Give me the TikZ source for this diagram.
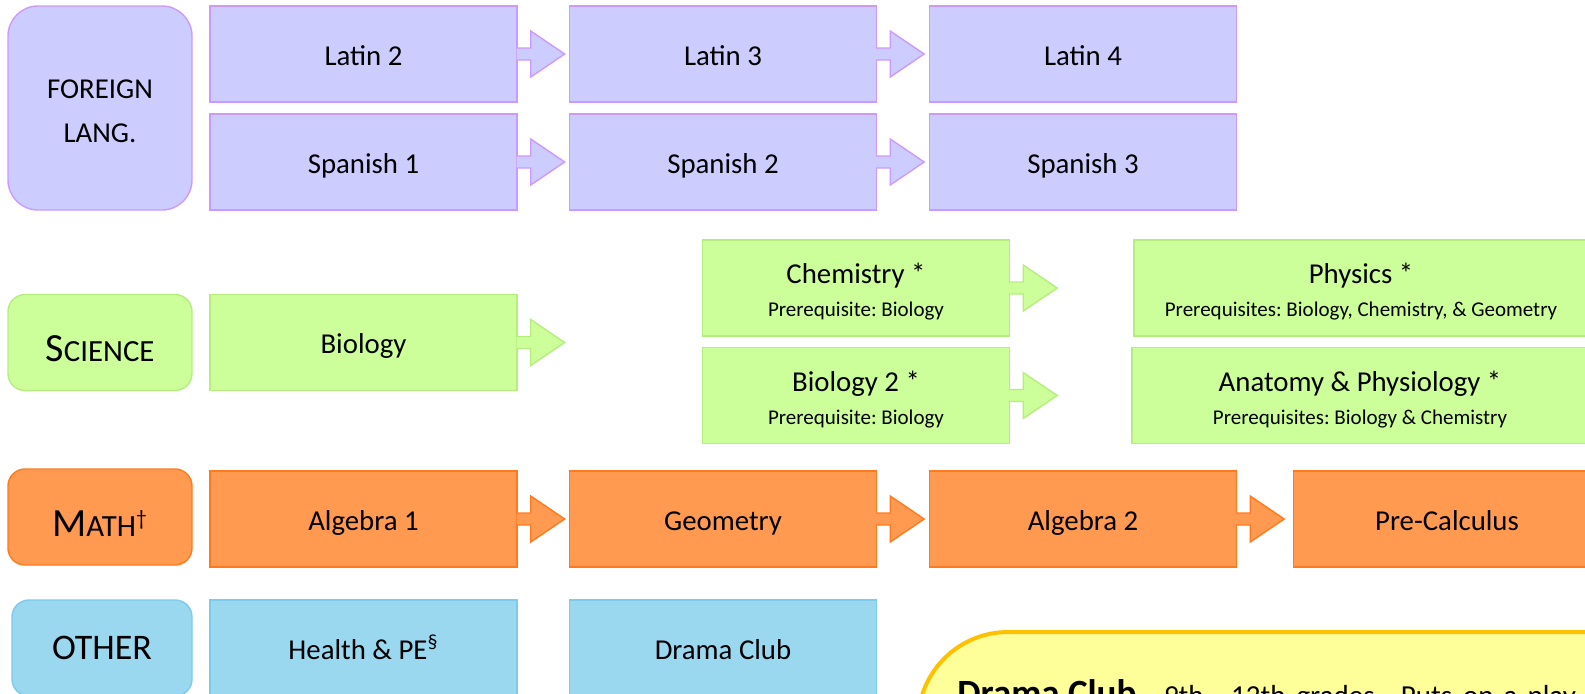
\documentclass[tikz,border=0pt]{standalone}
\usepackage{fontspec}
\setmainfont{Carlito}
\usepackage{tikz}
\usetikzlibrary{calc}
\usetikzlibrary{positioning}
\usepackage{xcolor}
\frenchspacing

\definecolor{langfill}{HTML}{CCCCFF}
\definecolor{langline}{HTML}{CC99FF}
\definecolor{scifill}{HTML}{CCFF99}
\definecolor{sciline}{HTML}{B5EE7F}
\definecolor{mathfill}{HTML}{FF9A50}
\definecolor{mathline}{HTML}{FF7A1F}
\definecolor{othfill}{HTML}{9AD8F0}
\definecolor{othline}{HTML}{7CCAEC}
\definecolor{notefill}{HTML}{FFFF99}
\definecolor{noteline}{HTML}{FFC000}

% block arrow hanging off the right side of a course box
\newcommand{\nextarrow}[2]{%
  \filldraw[#2] ($(#1.east)+(-1,-6)$) -- ++(14,0) -- ++(0,-17)
    -- ($(#1.east)+(47,0)$) -- ($(#1.east)+(13,23)$) -- ++(0,-17)
    -- ($(#1.east)+(-1,6)$);
}

\begin{document}
\begin{tikzpicture}[x=0.5pt, y=-0.5pt, line join=miter,
    box/.style={draw, line width=0.7pt, minimum width=153.5pt, minimum height=48pt,
      inner sep=0pt, align=center, font=\fontsize{14.4}{17}\selectfont},
    course/.style={box, text height=13.4pt, text depth=2pt},
    subject/.style={box, rounded corners=8.5pt, minimum width=92pt},
    lang/.style={fill=langfill, draw=langline, line width=0.7pt},
    sci/.style={fill=scifill, draw=sciline, line width=0.7pt},
    math/.style={fill=mathfill, draw=mathline, line width=0.7pt},
    oth/.style={fill=othfill, draw=othline, line width=0.7pt}]
    \useasboundingbox (0,0) rectangle (1585,693);
    \clip (0,0) rectangle (1585,693);

    % foreign languages
    \node[subject, lang, minimum height=102pt, rounded corners=15pt] (langs) at (100,108)
      {\rule{0pt}{12.3pt}FOREIGN\\[5pt]LANG.};
    \node[course, lang] (lat2) at (363.5,54) {Latin 2};
    \node[course, lang] (lat3) at (723,54) {Latin 3};
    \node[course, lang] (lat4) at (1083,54) {Latin 4};
    \node[course, lang] (spa1) at (363.5,162) {Spanish 1};
    \node[course, lang] (spa2) at (723,162) {Spanish 2};
    \node[course, lang] (spa3) at (1083,162) {Spanish 3};

    % science
    \node[subject, sci, text height=19pt, text depth=0pt] (sci) at (100,342.5)
      {\fontsize{20}{24}\selectfont S\fontsize{15.4}{18}\selectfont CIENCE};
    \node[course, sci] (bio) at (363.5,342.5) {Biology};
    \node[box, sci] (chem) at (856,288)
      {\rule{0pt}{14pt}Chemistry *\\[-0.5pt]\fontsize{10.5}{12}\selectfont Prerequisite: Biology};
    \node[box, sci] (bio2) at (856,395.5)
      {\rule{0pt}{14pt}Biology 2 *\\[-0.5pt]\fontsize{10.5}{12}\selectfont Prerequisite: Biology};
    \node[box, sci, minimum width=227pt] (phys) at (1361,288)
      {\rule{0pt}{14pt}Physics *\\[-0.5pt]\fontsize{10.5}{12}\selectfont Prerequisites: Biology, Chemistry, \& Geometry};
    \node[box, sci, minimum width=228pt] (anat) at (1360,395.5)
      {\rule{0pt}{14pt}Anatomy \& Physiology *\\[-0.5pt]\fontsize{10.5}{12}\selectfont Prerequisites: Biology \& Chemistry};

    % math
    \node[subject, math, text height=19pt, text depth=0pt] (maths) at (100,517)
      {\fontsize{20}{24}\selectfont M\fontsize{15.4}{18}\selectfont ATH\textsuperscript{†}};
    \node[course, math] (alg1) at (363.5,519) {Algebra 1};
    \node[course, math] (geo) at (723,519) {Geometry};
    \node[course, math] (alg2) at (1083,519) {Algebra 2};
    \node[course, math] (precalc) at (1447,519) {Pre-Calculus};

    % other
    \node[subject, oth, minimum width=90pt] (other) at (102,648)
      {\fontsize{18}{22}\selectfont OTHER};
    \node[course, oth] (health) at (363.5,648) {Health \& PE\textsuperscript{§}};
    \node[course, oth] (drama) at (723,648) {Drama Club};

    % arrows to the next course
    \foreach \n/\c in {lat2/lang, lat3/lang, spa1/lang, spa2/lang, bio/sci, chem/sci,
        bio2/sci, alg1/math, geo/math, alg2/math}
      \nextarrow{\n}{\c};

    % note on the drama club
    \filldraw[fill=notefill, draw=noteline, line width=2pt, rounded corners=45pt]
      (918,800) -- (918,632) -- (1700,632) -- (1700,800);
    \node[anchor=base west, inner sep=0pt] (dramanote) at (957,705)
      {{\fontsize{18.5}{22}\selectfont\bfseries Drama Club}\fontsize{14.5}{17}\selectfont\ – 9th – 12th\hspace{5.5pt}grades.\hspace{9.5pt}Puts\hspace{5.5pt}on\hspace{5pt}a\hspace{5pt}play};
\end{tikzpicture}
\end{document}
